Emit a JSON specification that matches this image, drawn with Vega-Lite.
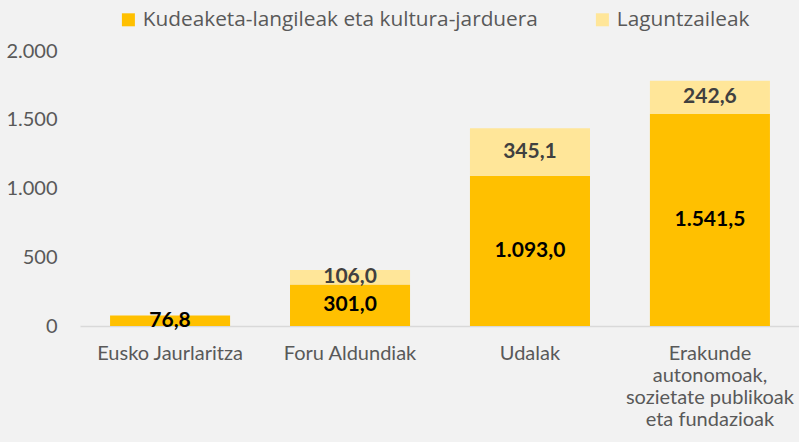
{
  "$schema": "https://vega.github.io/schema/vega-lite/v6.json",
  "width": 720,
  "height": 275,
  "autosize": "none",
  "padding": {"left": 80, "top": 51, "right": 0, "bottom": 116},
  "background": "#f2f2f2",
  "config": {
    "view": {"stroke": null},
    "font": "Lato",
    "locale": {"number": {"decimal": ",", "thousands": ".", "grouping": [3], "currency": ["", " €"]}}
  },
  "data": {
    "values": [
      {"cat": "Eusko Jaurlaritza", "series": "Kudeaketa-langileak eta kultura-jarduera", "ord": 1, "value": 76.8},
      {"cat": "Foru Aldundiak", "series": "Kudeaketa-langileak eta kultura-jarduera", "ord": 1, "value": 301.0},
      {"cat": "Foru Aldundiak", "series": "Laguntzaileak", "ord": 2, "value": 106.0},
      {"cat": "Udalak", "series": "Kudeaketa-langileak eta kultura-jarduera", "ord": 1, "value": 1093.0},
      {"cat": "Udalak", "series": "Laguntzaileak", "ord": 2, "value": 345.1},
      {"cat": "Erakunde autonomoak, sozietate publikoak eta fundazioak", "series": "Kudeaketa-langileak eta kultura-jarduera", "ord": 1, "value": 1541.5},
      {"cat": "Erakunde autonomoak, sozietate publikoak eta fundazioak", "series": "Laguntzaileak", "ord": 2, "value": 242.6}
    ]
  },
  "transform": [
    {"stack": "value", "groupby": ["cat"], "sort": [{"field": "ord"}], "as": ["y0", "y1"]},
    {"calculate": "(datum.y0 + datum.y1) / 2", "as": "ymid"}
  ],
  "encoding": {
    "x": {
      "field": "cat", "type": "nominal", "sort": null,
      "scale": {"paddingInner": 0.333, "paddingOuter": 0.167},
      "axis": {
        "title": null, "labelAngle": 0, "ticks": false, "domainColor": "#d9d9d9", "domainWidth": 1.5,
        "labelFontSize": 20, "labelColor": "#595959", "labelPadding": 17, "labelLineHeight": 22, "labelLimit": 300,
        "labelExpr": "datum.value == 'Erakunde autonomoak, sozietate publikoak eta fundazioak' ? ['Erakunde', 'autonomoak,', 'sozietate publikoak', 'eta fundazioak'] : datum.value"
      }
    }
  },
  "layer": [
    {
      "mark": {"type": "bar"},
      "encoding": {
        "y": {
          "field": "y0", "type": "quantitative",
          "scale": {"domain": [0, 2000]},
          "axis": {"title": null, "values": [0, 500, 1000, 1500, 2000], "format": ",.0f", "grid": false, "ticks": false, "domain": false, "labelFontSize": 20, "labelColor": "#595959", "labelPadding": 23}
        },
        "y2": {"field": "y1"},
        "color": {
          "field": "series", "type": "nominal",
          "scale": {"domain": ["Kudeaketa-langileak eta kultura-jarduera", "Laguntzaileak"], "range": ["#FFC000", "#FFE699"]},
          "legend": {
            "title": null, "orient": "none", "direction": "horizontal", "legendX": 38, "legendY": -42,
            "symbolType": "square", "symbolSize": 169, "symbolStrokeWidth": 0, "labelLimit": 500,
            "labelFont": "Open Sans", "labelFontSize": 20.8, "labelColor": "#595959", "columnPadding": 54, "labelOffset": 4
          }
        }
      }
    },
    {
      "mark": {"type": "text", "fontWeight": "bold", "fontSize": 21, "baseline": "middle"},
      "encoding": {
        "y": {"field": "ymid", "type": "quantitative"},
        "text": {"field": "value", "type": "quantitative", "format": ",.1f"},
        "color": {"condition": {"test": "datum.series == 'Laguntzaileak'", "value": "#404040"}, "value": "#000000"}
      }
    }
  ]
}
